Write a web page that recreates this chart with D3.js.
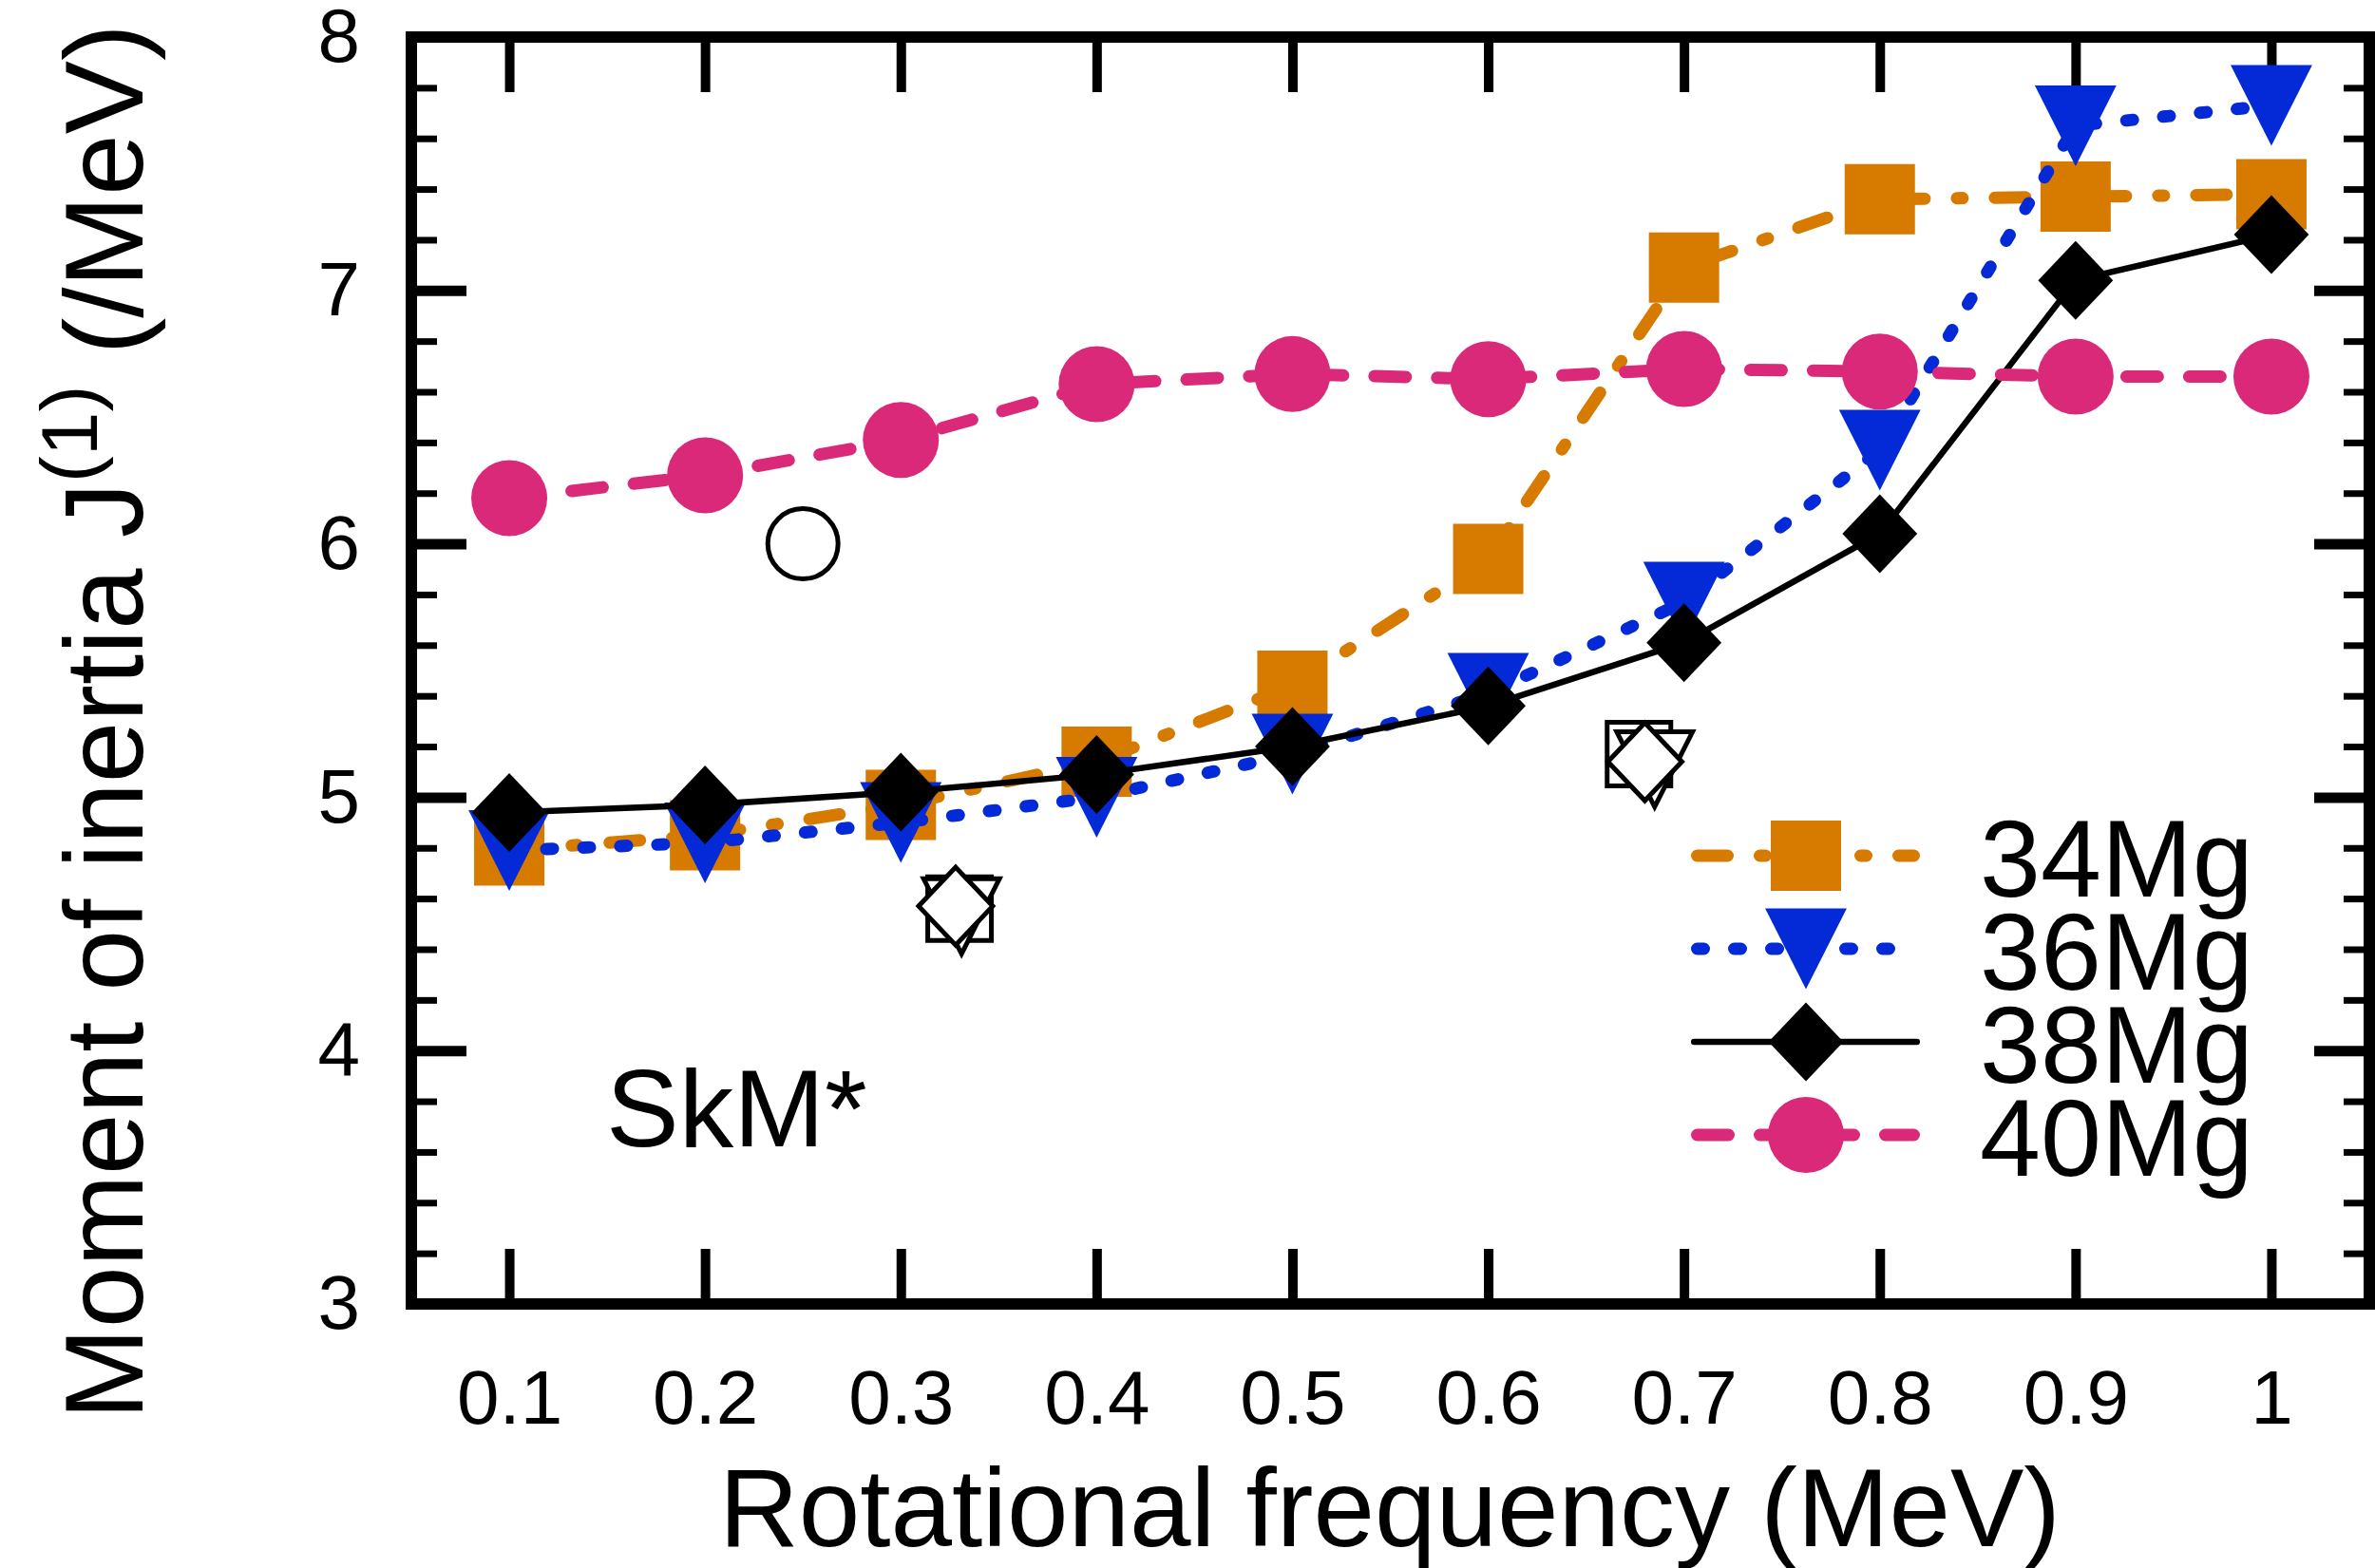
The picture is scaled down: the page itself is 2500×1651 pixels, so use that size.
<!DOCTYPE html>
<html>
<head>
<meta charset="utf-8">
<script src="https://cdnjs.cloudflare.com/ajax/libs/d3/7.8.5/d3.min.js"></script>
<style>
  html, body { margin: 0; padding: 0; background: #fff; }
  svg { display: block; }
  text { font-family: "Liberation Sans", Arial, Helvetica, sans-serif; fill: #000; }
</style>
</head>
<body>
<svg id="chart" width="2500" height="1651"></svg>
<script>
// ---------------- data ----------------
const freq = [0.1, 0.2, 0.3, 0.4, 0.5, 0.6, 0.7, 0.8, 0.9, 1.0];
const mg34 = [4.79, 4.85, 4.97, 5.14, 5.44, 5.94, 7.09, 7.36, 7.37, 7.38];
const mg36 = [4.79, 4.82, 4.90, 5.00, 5.17, 5.41, 5.77, 6.37, 7.65, 7.73];
const mg38 = [4.94, 4.97, 5.02, 5.09, 5.20, 5.36, 5.61, 6.04, 7.04, 7.22];
const mg40 = [6.18, 6.27, 6.41, 6.63, 6.67, 6.65, 6.69, 6.68, 6.66, 6.66];

// open (hollow) symbols
const expCircleX = [0.25];   const expCircleY = [6.00];
const expSquareX = [0.330, 0.677];  const expSquareY = [4.56, 5.17];
const expTriX    = [0.331, 0.685];  const expTriY    = [4.53, 5.11];
const expDiamX   = [0.328, 0.680];  const expDiamY   = [4.57, 5.14];

const xTickValues = [0.1, 0.2, 0.3, 0.4, 0.5, 0.6, 0.7, 0.8, 0.9, 1.0];
const xTickLabels = ["0.1", "0.2", "0.3", "0.4", "0.5", "0.6", "0.7", "0.8", "0.9", "1"];
const yTickValues = [3, 4, 5, 6, 7, 8];
const yTickLabels = ["3", "4", "5", "6", "7", "8"];
const yMinorValues = [3.2, 3.4, 3.6, 3.8, 4.2, 4.4, 4.6, 4.8, 5.2, 5.4, 5.6, 5.8,
                      6.2, 6.4, 6.6, 6.8, 7.2, 7.4, 7.6, 7.8];

const seriesNames = ["34Mg", "36Mg", "38Mg", "40Mg"];

// ---------------- layout ----------------
const svg = d3.select("#chart");
const L = 433, R = 2494, T = 39, B = 1373;
const x = d3.scaleLinear().domain([0.05, 1.05]).range([L, R]);
const y = d3.scaleLinear().domain([3, 8]).range([B, T]);

const COL = { orange: "#d67a00", blue: "#032ad6", black: "#000000", pink: "#d92978" };

// ---------------- axes / ticks ----------------
function styleAxis(g, width) {
  g.select(".domain").remove();
  g.selectAll(".tick line").attr("stroke", "#000").attr("stroke-width", width);
  g.selectAll(".tick text").attr("font-size", 80)
    .attr("font-family", "'Liberation Sans', Arial, Helvetica, sans-serif").attr("fill", "#000");
}
svg.append("g").attr("transform", `translate(0,${B})`)
  .call(d3.axisBottom(x).tickValues(xTickValues).tickSizeInner(-58).tickSizeOuter(0)
        .tickPadding(69).tickFormat((d, i) => xTickLabels[i]))
  .call(g => styleAxis(g, 10));
svg.append("g").attr("transform", `translate(0,${T})`)
  .call(d3.axisTop(x).tickValues(xTickValues).tickSizeInner(-58).tickSizeOuter(0).tickFormat(""))
  .call(g => styleAxis(g, 10));
svg.append("g").attr("transform", `translate(${L},0)`)
  .call(d3.axisLeft(y).tickValues(yTickValues).tickSizeInner(-58).tickSizeOuter(0)
        .tickPadding(54).tickFormat((d, i) => yTickLabels[i]))
  .call(g => styleAxis(g, 11));
svg.append("g").attr("transform", `translate(${L},0)`)
  .call(d3.axisLeft(y).tickValues(yMinorValues).tickSizeInner(-27).tickSizeOuter(0).tickFormat(""))
  .call(g => styleAxis(g, 7));
svg.append("g").attr("transform", `translate(${R},0)`)
  .call(d3.axisRight(y).tickValues(yTickValues).tickSizeInner(-58).tickSizeOuter(0).tickFormat(""))
  .call(g => styleAxis(g, 11));
svg.append("g").attr("transform", `translate(${R},0)`)
  .call(d3.axisRight(y).tickValues(yMinorValues).tickSizeInner(-27).tickSizeOuter(0).tickFormat(""))
  .call(g => styleAxis(g, 7));

// frame
svg.append("rect").attr("x", L).attr("y", T).attr("width", R - L).attr("height", B - T)
  .attr("fill", "none").attr("stroke", "#000").attr("stroke-width", 12);

// ---------------- marker shapes ----------------
function shapePath(type, s) {
  const p = d3.path();
  if (type === "square") {
    p.rect(-s / 2, -s / 2, s, s);
  } else if (type === "tri") {
    const w = s * 1.01, h = s;
    p.moveTo(-w / 2, -h / 2); p.lineTo(w / 2, -h / 2); p.lineTo(0, h / 2); p.closePath();
  } else if (type === "diamond") {
    const w = s * 0.95;
    p.moveTo(0, -s / 2); p.lineTo(w / 2, 0); p.lineTo(0, s / 2); p.lineTo(-w / 2, 0); p.closePath();
  } else if (type === "circle") {
    p.arc(0, 0, s / 2, 0, 2 * Math.PI); p.closePath();
  }
  return p.toString();
}

const series = [
  { name: seriesNames[0], vals: mg34, color: COL.orange, width: 13, dash: "32,34,6,34", cap: "round", shape: "square", size: 74 },
  { name: seriesNames[1], vals: mg36, color: COL.blue, width: 13, dash: "7,32", cap: "round", shape: "tri", size: 85 },
  { name: seriesNames[2], vals: mg38, color: COL.black, width: 6.5, dash: null, cap: "round", shape: "diamond", size: 83 },
  { name: seriesNames[3], vals: mg40, color: COL.pink, width: 13, dash: "33,33", cap: "round", shape: "circle", size: 80 }
];

const line = d3.line().x(d => x(d[0])).y(d => y(d[1]));

series.forEach(s => {
  const pts = freq.map((f, i) => [f, s.vals[i]]);
  const g = svg.append("g");
  g.append("path").datum(pts).attr("d", line)
    .attr("fill", "none").attr("stroke", s.color).attr("stroke-width", s.width)
    .attr("stroke-linecap", s.cap).attr("stroke-linejoin", "round")
    .attr("stroke-dasharray", s.dash);
  g.selectAll("path.m").data(pts).join("path").attr("class", "m")
    .attr("transform", d => `translate(${x(d[0])},${y(d[1])})`)
    .attr("d", shapePath(s.shape, s.size))
    .attr("fill", s.color);
});

// hollow symbols
function hollow(xs, ys, shape, size) {
  svg.append("g").selectAll("path").data(xs.map((v, i) => [v, ys[i]])).join("path")
    .attr("transform", d => `translate(${x(d[0])},${y(d[1])})`)
    .attr("d", shapePath(shape, size))
    .attr("fill", "#fff").attr("stroke", "#000").attr("stroke-width", 5);
}
hollow(expCircleX, expCircleY, "circle", 74);
hollow(expSquareX, expSquareY, "square", 67);
hollow(expTriX, expTriY, "tri", 79);
hollow(expDiamX, expDiamY, "diamond", 82);

// ---------------- legend ----------------
const legRowY = [901, 999, 1097, 1195];
const legX0 = 1780, legX1 = 2021, legMid = 1901, legTextX = 2084;
series.forEach((s, i) => {
  const g = svg.append("g");
  g.append("line").attr("x1", legX0 + s.width / 2).attr("x2", legX1 - s.width / 2)
    .attr("y1", legRowY[i]).attr("y2", legRowY[i])
    .attr("stroke", s.color).attr("stroke-width", s.width)
    .attr("stroke-linecap", s.cap).attr("stroke-dasharray", s.dash);
  g.append("path").attr("transform", `translate(${legMid},${legRowY[i]})`)
    .attr("d", shapePath(s.shape, s.size)).attr("fill", s.color);
  g.append("text").attr("x", legTextX).attr("y", legRowY[i]).attr("dy", "0.37em")
    .attr("font-size", 115).text(s.name);
});

// ---------------- labels ----------------
svg.append("text").attr("x", 638).attr("y", 1207).attr("font-size", 115).text("SkM*");

svg.append("text").attr("x", 1463).attr("y", 1628).attr("text-anchor", "middle")
  .attr("font-size", 116).text("Rotational frequency (MeV)");

const yt = svg.append("text").attr("transform", "translate(150,760) rotate(-90)")
  .attr("text-anchor", "middle").attr("font-size", 116);
yt.append("tspan").text("Moment of inertia J");
yt.append("tspan").attr("font-size", 84).attr("dy", -48).text("(1)");
yt.append("tspan").attr("dy", 48).text(" (/MeV)");
</script>
</body>
</html>
